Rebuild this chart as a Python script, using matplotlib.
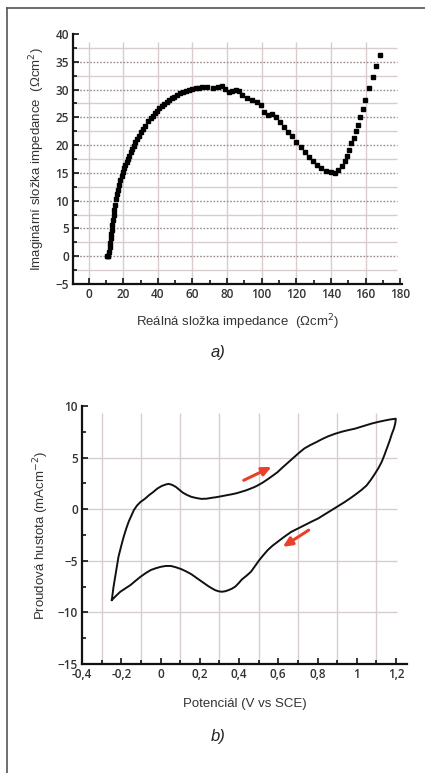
import numpy as np
import matplotlib
matplotlib.use("Agg")
import matplotlib.pyplot as plt
from matplotlib.lines import Line2D

# --- a) Nyquist plot (impedance) ---
z_real = [10.5, 11.0, 11.5, 11.8, 12.1, 12.4, 12.7, 13.0, 13.3, 13.6, 14.0, 14.4,
          14.8, 15.2, 15.7, 16.2, 16.8, 17.5, 18.3, 19.1, 19.9, 20.6, 21.3, 22.0,
          22.8, 23.6, 24.4, 25.2, 26.1, 26.9, 27.7, 29.0, 30.2, 31.4, 32.6, 34.5,
          35.8, 37.0, 38.2, 39.4, 40.8, 42.3, 43.7, 45.2, 46.7, 48.2, 49.6, 51.1,
          52.8, 54.6, 56.3, 57.9, 59.8, 61.8, 63.7, 65.7, 68.6, 71.6, 74.5, 76.8,
          78.8, 81.3, 83.0, 85.0, 87.0, 88.7, 91.6, 94.5, 97.1, 99.4, 101.4, 103.7,
          106.2, 108.2, 110.7, 113.1, 115.4, 117.4, 119.9, 122.4, 124.8, 127.1,
          129.6, 132.2, 134.5, 137.0, 139.8, 142.3, 144.3, 146.2, 147.8, 149.1,
          150.5, 151.7, 153.0, 154.4, 155.6, 156.9, 158.3, 159.9, 161.8, 164.2,
          166.1, 168.3]
z_imag = [0.0, 0.0, 0.0, 0.8, 1.6, 2.4, 3.2, 4.0, 4.8, 5.6, 6.6, 7.5,
          8.4, 9.3, 10.3, 11.2, 12.0, 12.8, 13.7, 14.5, 15.2, 15.8, 16.4, 16.9,
          17.5, 18.1, 18.7, 19.3, 19.9, 20.5, 21.1, 21.7, 22.3, 22.9, 23.5, 24.4,
          24.9, 25.3, 25.8, 26.2, 26.6, 27.0, 27.4, 27.7, 28.1, 28.4, 28.7, 29.0,
          29.3, 29.6, 29.8, 30.0, 30.1, 30.2, 30.3, 30.4, 30.4, 30.2, 30.4, 30.6,
          30.1, 29.5, 29.8, 29.9, 29.8, 29.1, 28.5, 28.1, 27.7, 27.3, 25.9, 25.4,
          25.6, 25.1, 24.1, 23.3, 22.4, 21.6, 20.6, 19.6, 18.7, 17.9,
          17.1, 16.4, 15.8, 15.4, 15.2, 15.0, 15.5, 16.3, 17.2, 18.1,
          19.1, 20.3, 21.3, 22.5, 23.7, 25.1, 26.5, 28.2, 30.3, 32.3,
          34.2, 36.3]

# --- b) cyclic voltammogram ---
cv_potential = [-0.248, -0.240, -0.231, -0.222, -0.214, -0.200, -0.188, -0.175,
                -0.162, -0.148, -0.136, -0.120, -0.102, -0.080, -0.059, -0.038,
                -0.016, 0.006, 0.028, 0.040, 0.053, 0.065, 0.079, 0.095, 0.114,
                0.135, 0.157, 0.183, 0.209, 0.235, 0.260, 0.286, 0.312, 0.338,
                0.364, 0.390, 0.415, 0.438, 0.460, 0.478, 0.495, 0.520, 0.546,
                0.572, 0.597, 0.618, 0.640, 0.662, 0.683, 0.708, 0.734, 0.764,
                0.794, 0.824, 0.854, 0.888, 0.922, 0.956, 0.990, 1.033, 1.076,
                1.110, 1.144, 1.172, 1.199,
                1.196, 1.189, 1.179, 1.167, 1.153, 1.140, 1.127, 1.111, 1.093,
                1.072, 1.050, 1.025, 0.999, 0.970, 0.939, 0.905, 0.871, 0.837,
                0.803, 0.768, 0.734, 0.700, 0.666, 0.630, 0.597, 0.570, 0.546,
                0.524, 0.503, 0.482, 0.461, 0.438, 0.415, 0.398, 0.381, 0.364,
                0.347, 0.330, 0.312, 0.295, 0.278, 0.261, 0.243, 0.222, 0.200,
                0.178, 0.157, 0.131, 0.105, 0.079, 0.053, 0.027, 0.002, -0.024,
                -0.050, -0.076, -0.102, -0.128, -0.153, -0.179, -0.205, -0.227,
                -0.248]
cv_current = [-8.8, -7.6, -6.55, -5.5, -4.6, -3.55, -2.7, -1.9,
              -1.2, -0.6, -0.1, 0.35, 0.7, 1.0, 1.35, 1.65,
              2.0, 2.25, 2.4, 2.45, 2.4, 2.3, 2.15, 1.9, 1.6,
              1.38, 1.2, 1.08, 1.0, 1.02, 1.1, 1.17, 1.26, 1.35,
              1.45, 1.56, 1.7, 1.84, 2.0, 2.14, 2.3, 2.57, 2.9,
              3.25, 3.6, 3.98, 4.35, 4.72, 5.06, 5.5, 5.9, 6.22,
              6.5, 6.8, 7.06, 7.3, 7.5, 7.66, 7.8, 8.05, 8.3,
              8.46, 8.6, 8.7, 8.77,
              8.3, 7.8, 7.3, 6.6, 5.87, 5.2, 4.58, 4.0, 3.45,
              2.85, 2.3, 1.88, 1.5, 1.1, 0.7, 0.3, -0.1, -0.5,
              -0.9, -1.22, -1.55, -1.87, -2.2, -2.68, -3.16, -3.55, -3.97,
              -4.45, -4.94, -5.5, -6.06, -6.45, -6.8, -7.17, -7.5, -7.7,
              -7.84, -7.95, -8.0, -7.95, -7.84, -7.66, -7.45, -7.17, -6.87,
              -6.58, -6.3, -6.03, -5.8, -5.63, -5.5, -5.5, -5.58, -5.72,
              -5.9, -6.2, -6.55, -6.95, -7.35, -7.68, -8.0, -8.4,
              -8.8]

# scan direction arrows (start, end)
arrow_fwd = ((0.424, 2.8), (0.566, 4.1))
arrow_rev = ((0.755, -2.03), (0.623, -3.65))

GRID = "#d9cccc"
DOT = "#9a8a8a"
TXT = "#333333"
TICKFONT = dict(family="Open Sans", weight="semibold", size=8.5)

fig = plt.figure(figsize=(4.25, 7.73), dpi=100)

# frame (only top and left edge visible)
fig.add_artist(Line2D([7 / 425, 7 / 425], [0, 1 - 8 / 773], color="#555555", lw=1.2))
fig.add_artist(Line2D([7 / 425, 1], [1 - 8 / 773, 1 - 8 / 773], color="#555555", lw=1.2))


def style_axes(ax):
    for s in ("top", "right"):
        ax.spines[s].set_visible(False)
    for s in ("left", "bottom"):
        ax.spines[s].set_linewidth(1.6)
        ax.spines[s].set_color("#111111")
    ax.tick_params(axis="both", which="both", direction="in", colors="#111111",
                   labelcolor=TXT, width=1.2)
    ax.tick_params(axis="both", which="major", length=4, pad=3)
    ax.tick_params(axis="both", which="minor", length=3)
    for lab in ax.get_xticklabels() + ax.get_yticklabels():
        lab.set_fontfamily(TICKFONT["family"])
        lab.set_fontweight(TICKFONT["weight"])
        lab.set_fontsize(TICKFONT["size"])


# ---------------- top chart ----------------
ax1 = fig.add_axes([73 / 425, 1 - 284 / 773, 329 / 425, 250 / 773])
ax1.set_xlim(-9, 181)
ax1.set_ylim(-5, 40)
ax1.set_xticks(np.arange(0, 181, 20))
ax1.set_xticks(np.arange(10, 181, 20), minor=True)
ax1.set_yticks(np.arange(-5, 41, 5))
ax1.set_yticks(np.arange(-2.5, 40, 5), minor=True)
ax1.vlines(np.arange(0, 161, 20), -5, 38.5, color=GRID, lw=1.0, zorder=0)
ax1.hlines(np.arange(-2.5, 38, 5), -9, 178, color=GRID, lw=1.0, zorder=0)
ax1.hlines(np.arange(0, 36, 5), -9, 178, color=DOT, lw=1.0, linestyle=(0, (1.2, 1.2)), zorder=0)
ax1.plot(z_real, z_imag, "s", color="black", ms=3.2, mec="black")
style_axes(ax1)
ax1.set_xlabel("Reálná složka impedance  (Ωcm$^2$)", fontsize=9.5, color=TXT,
               family="Liberation Sans", labelpad=8)
ax1.set_ylabel("Imaginární složka impedance  (Ωcm$^2$)", fontsize=9.5, color=TXT,
               family="Liberation Sans", labelpad=6)
fig.text(218 / 425, 1 - 352 / 773, "a)", fontsize=12, style="italic",
         family="Liberation Sans", ha="center", va="center", color="#222222")

# ---------------- bottom chart ----------------
ax2 = fig.add_axes([82 / 425, 1 - 664 / 773, 325 / 425, 258 / 773])
ax2.set_xlim(-0.4, 1.256)
ax2.set_ylim(-15, 10)
ax2.set_xticks(np.arange(-0.4, 1.21, 0.2))
ax2.set_xticks(np.arange(-0.3, 1.25, 0.2), minor=True)
ax2.set_yticks(np.arange(-15, 11, 5))
ax2.set_yticks(np.arange(-12.5, 10, 5), minor=True)
ax2.set_xticklabels(["-0,4", "-0,2", "0", "0,2", "0,4", "0,6", "0,8", "1", "1,2"])
ax2.vlines(np.arange(-0.3, 1.15, 0.2), -15, 9.3, color=GRID, lw=1.0, zorder=0)
ax2.hlines(np.arange(-10, 6, 5), -0.4, 1.205, color=GRID, lw=1.0, zorder=0)
ax2.plot(cv_potential, cv_current, color="#111111", lw=1.4)
for (x0, y0), (x1, y1) in (arrow_fwd, arrow_rev):
    ax2.annotate("", xy=(x1, y1), xytext=(x0, y0),
                 arrowprops=dict(arrowstyle="-|>,head_length=0.55,head_width=0.25",
                                 color="#e8402a", lw=2.2, shrinkA=0, shrinkB=0))
style_axes(ax2)
ax2.set_xlabel("Potenciál (V vs SCE)", fontsize=9.5, color=TXT,
               family="Liberation Sans", labelpad=12)
ax2.set_ylabel("Proudová hustota (mAcm$^{-2}$)", fontsize=9.5, color=TXT,
               family="Liberation Sans", labelpad=5)
fig.text(218 / 425, 1 - 737 / 773, "b)", fontsize=12, style="italic",
         family="Liberation Sans", ha="center", va="center", color="#222222")

fig.savefig("out.png", dpi=100, facecolor="white")
